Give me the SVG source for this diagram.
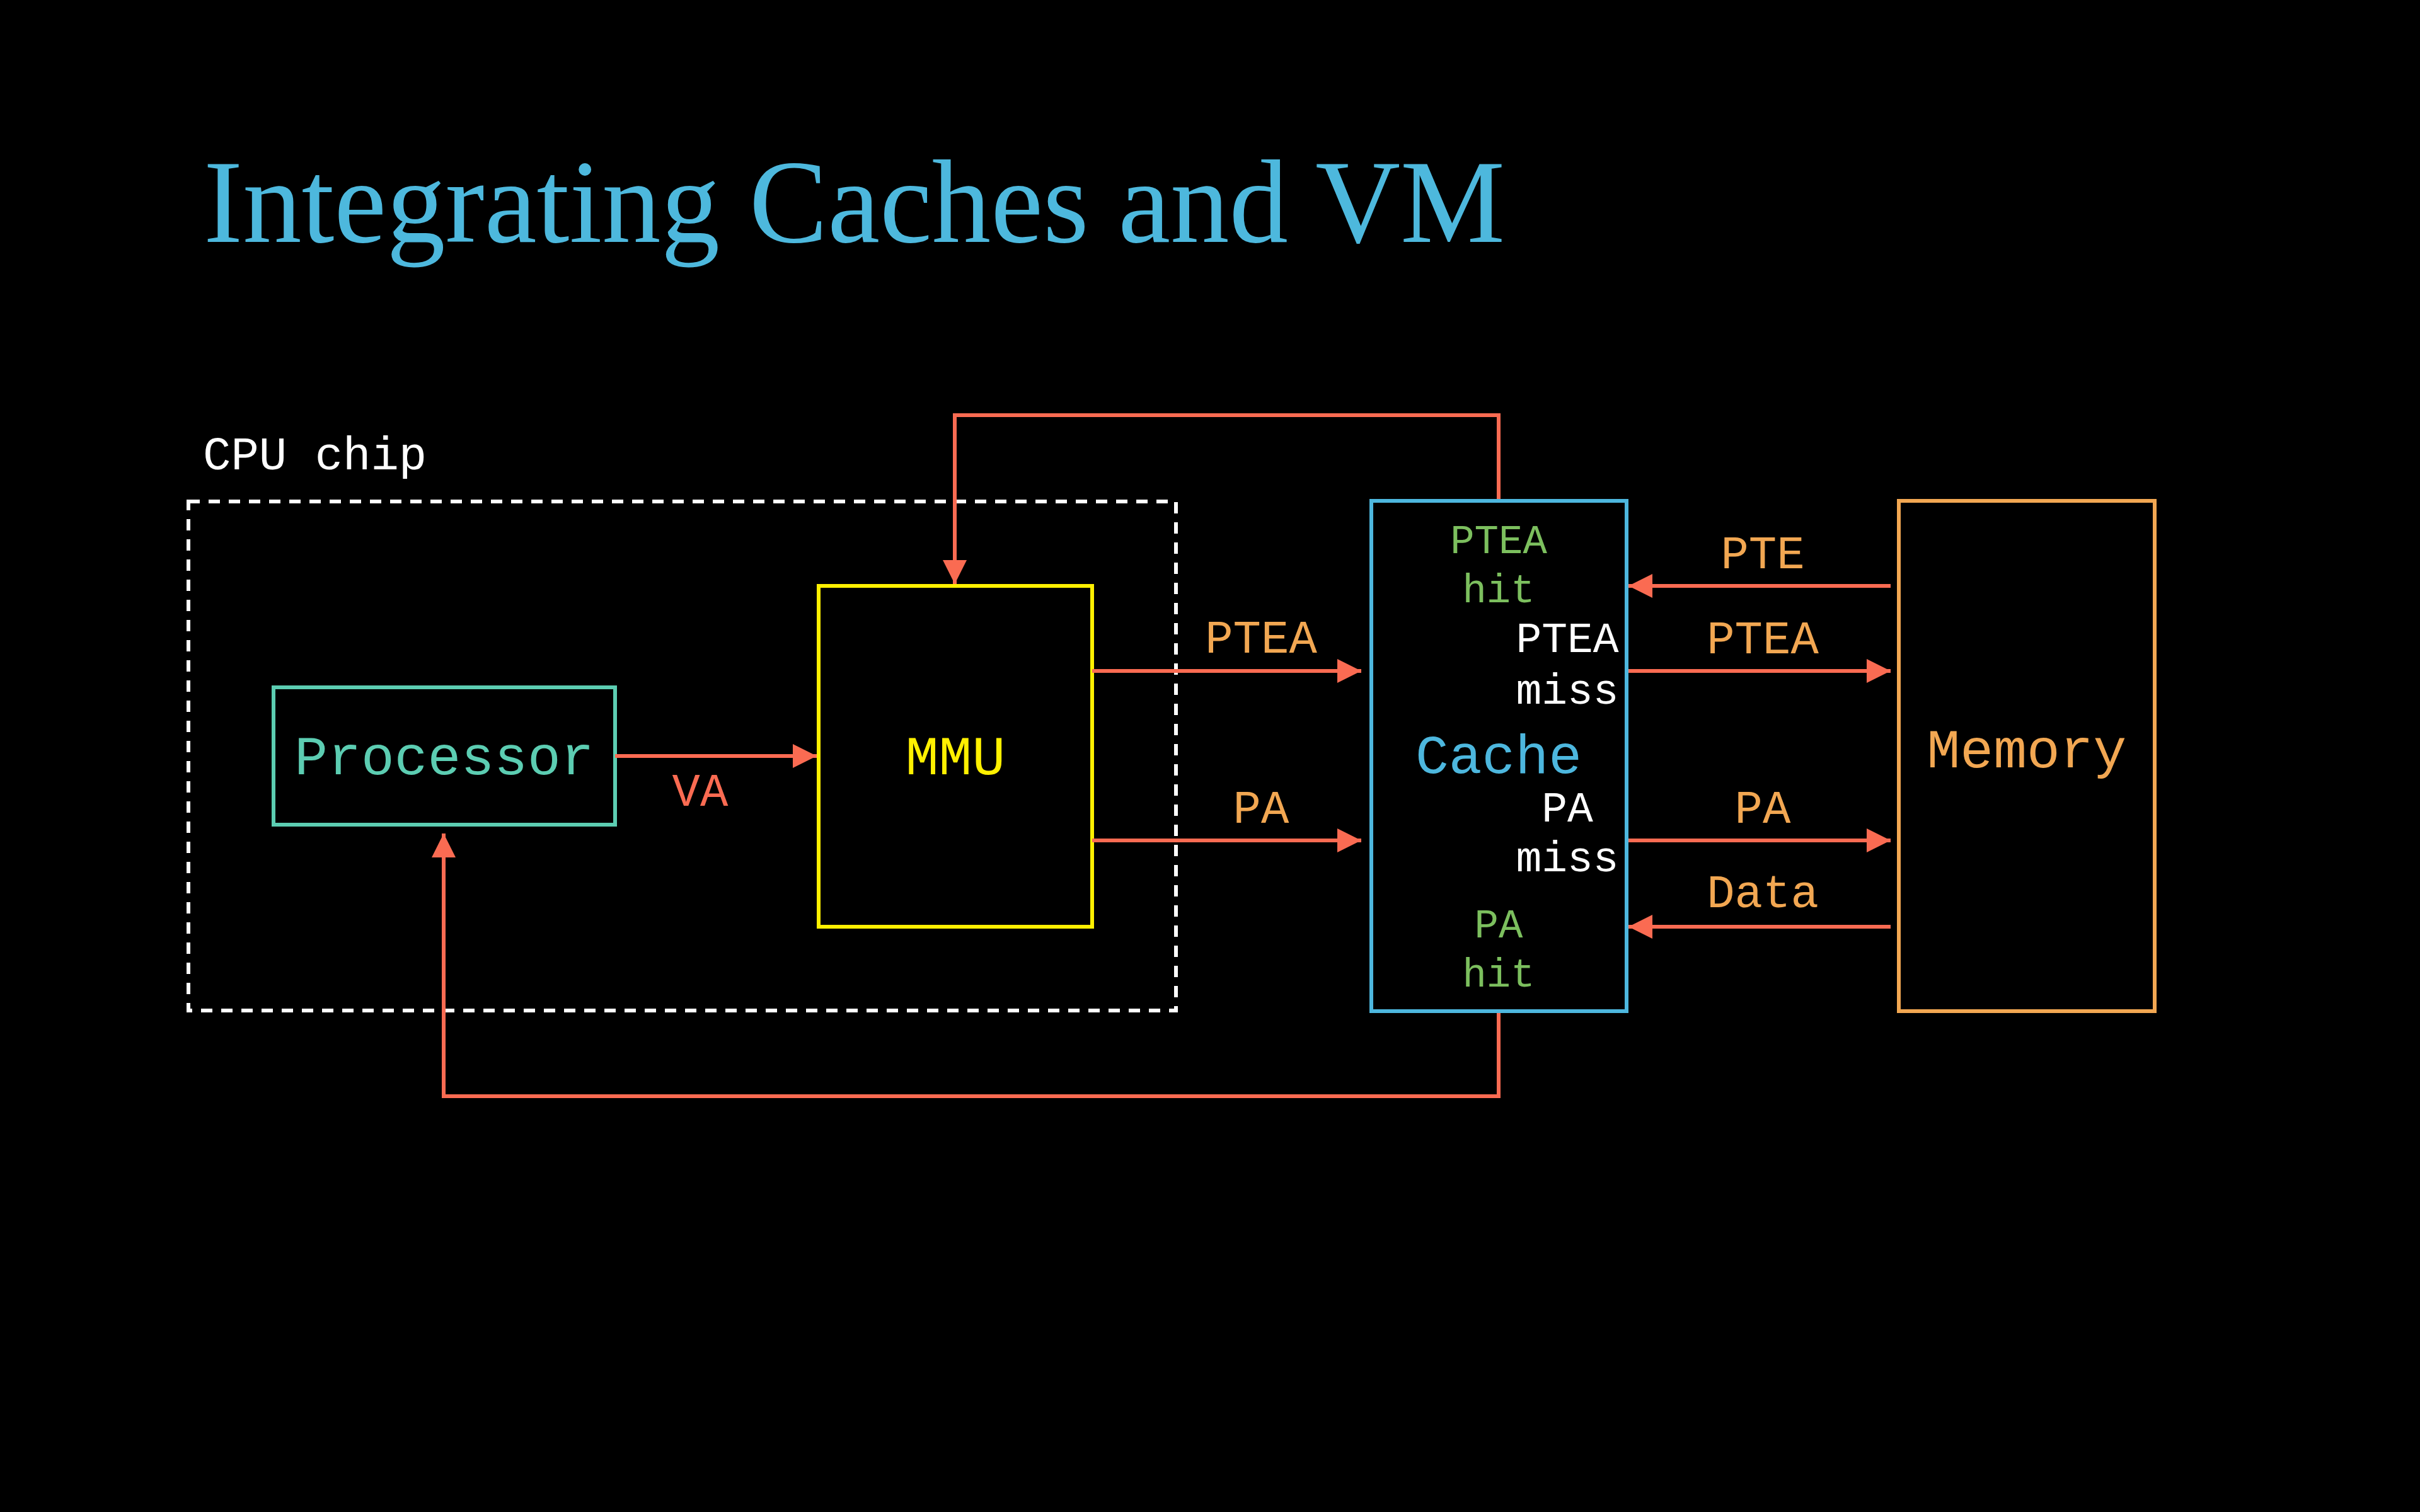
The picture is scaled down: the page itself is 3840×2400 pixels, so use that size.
<svg xmlns="http://www.w3.org/2000/svg" width="3840" height="2400" viewBox="0 0 3840 2400">
<style>
.mono{font-family:"Liberation Mono","DejaVu Sans Mono",monospace;}
.box{fill:none;stroke-width:6;}
.wire{fill:none;stroke:#FA6B52;stroke-width:6;}
.lbl{fill:#F2A752;font-size:74px;text-anchor:middle;}
.grn{fill:#7CBF5E;font-size:64px;text-anchor:middle;}
.wht{fill:#FFFFFF;font-size:68px;text-anchor:middle;}
</style>
<defs>
<marker id="ah" viewBox="0 0 10 10" refX="10" refY="5" markerWidth="40" markerHeight="38" markerUnits="userSpaceOnUse" orient="auto">
<path d="M0,0 L10,5 L0,10 Z" fill="#FA6B52"/>
</marker>
</defs>
<rect width="3840" height="2400" fill="#000000"/>
<text x="323" y="384" font-family="'Liberation Serif','DejaVu Serif',serif" font-size="188" fill="#4DB8DD" textLength="2065" lengthAdjust="spacingAndGlyphs">Integrating Caches and VM</text>

<g id="cpu-chip">
<rect x="299" y="796" width="1567" height="808" fill="none" stroke="#FFFFFF" stroke-width="6" stroke-dasharray="18,14"/>
<text class="mono" x="322" y="745" font-size="74" fill="#FFFFFF">CPU chip</text>
</g>

<g id="processor">
<rect class="box" x="434" y="1091" width="542" height="218" stroke="#5CCDB2"/>
<text class="mono" x="705" y="1229" font-size="88" fill="#5CCDB2" text-anchor="middle">Processor</text>
</g>

<g id="mmu">
<rect class="box" x="1299" y="930" width="434" height="541" stroke="#FFF000"/>
<text class="mono" x="1516" y="1229" font-size="88" fill="#FFF000" text-anchor="middle">MMU</text>
</g>

<g id="cache">
<rect class="box" x="2176" y="795" width="405" height="810" stroke="#4DB7DE"/>
<text class="mono" x="2378" y="1227" font-size="88" fill="#4DB7DE" text-anchor="middle">Cache</text>
<text class="mono grn" x="2378" y="878">PTEA</text>
<text class="mono grn" x="2378" y="956">hit</text>
<text class="mono wht" x="2487" y="1035">PTEA</text>
<text class="mono wht" x="2487" y="1117">miss</text>
<text class="mono wht" x="2487" y="1304">PA</text>
<text class="mono wht" x="2487" y="1383">miss</text>
<text class="mono grn" x="2378" y="1488">PA</text>
<text class="mono grn" x="2378" y="1566">hit</text>
</g>

<g id="memory">
<rect class="box" x="3013" y="795" width="406" height="810" stroke="#F2A752"/>
<text class="mono" x="3216" y="1218" font-size="88" fill="#F2A752" text-anchor="middle">Memory</text>
</g>

<g id="connectors">
<line class="wire" x1="976" y1="1200" x2="1296" y2="1200" marker-end="url(#ah)"/>
<line class="wire" x1="1733" y1="1065" x2="2160" y2="1065" marker-end="url(#ah)"/>
<line class="wire" x1="1733" y1="1334" x2="2160" y2="1334" marker-end="url(#ah)"/>
<line class="wire" x1="3000" y1="930" x2="2584" y2="930" marker-end="url(#ah)"/>
<line class="wire" x1="2584" y1="1065" x2="3000" y2="1065" marker-end="url(#ah)"/>
<line class="wire" x1="2584" y1="1334" x2="3000" y2="1334" marker-end="url(#ah)"/>
<line class="wire" x1="3000" y1="1471" x2="2584" y2="1471" marker-end="url(#ah)"/>
<polyline class="wire" points="2378,792 2378,659 1515,659 1515,927" marker-end="url(#ah)"/>
<polyline class="wire" points="2378,1608 2378,1740 704,1740 704,1323" marker-end="url(#ah)"/>
<text class="mono" x="1111" y="1279" font-size="74" fill="#FA6B52" text-anchor="middle">VA</text>
<text class="mono lbl" x="2001" y="1036">PTEA</text>
<text class="mono lbl" x="2001" y="1306">PA</text>
<text class="mono lbl" x="2797" y="902">PTE</text>
<text class="mono lbl" x="2797" y="1037">PTEA</text>
<text class="mono lbl" x="2797" y="1306">PA</text>
<text class="mono lbl" x="2797" y="1440">Data</text>
</g>
</svg>
